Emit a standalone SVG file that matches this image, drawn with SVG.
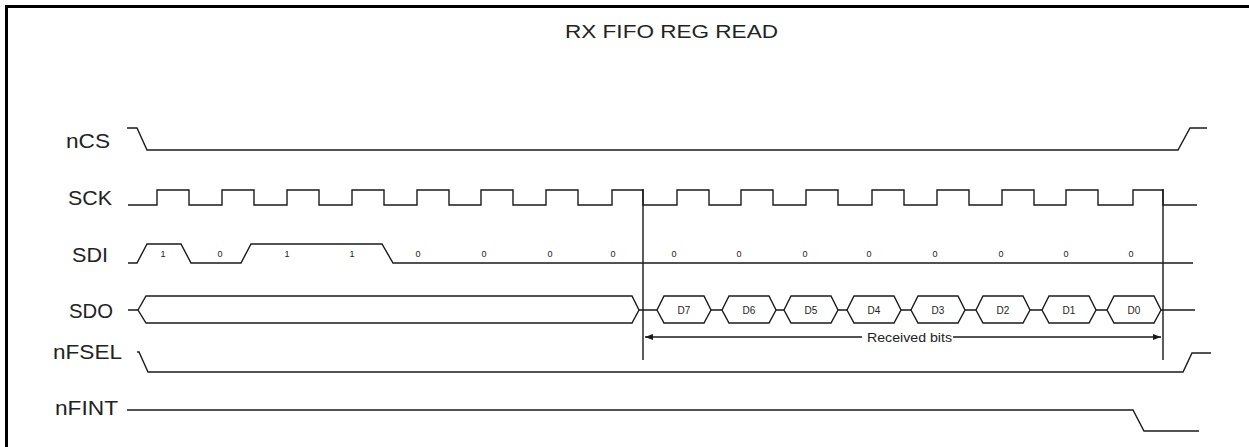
<svg xmlns="http://www.w3.org/2000/svg" width="1249" height="447" viewBox="0 0 1249 447">
<style>
.w{fill:none;stroke:#1a1a1a;stroke-width:1.4;stroke-linejoin:miter}
.lbl{font-family:"Liberation Sans",Arial,sans-serif;font-size:21px;fill:#222}
.ttl{font-family:"Liberation Sans",Arial,sans-serif;font-size:19px;fill:#222}
.bit{font-family:"Liberation Sans",Arial,sans-serif;font-size:9px;fill:#222;text-anchor:middle}
.d{font-family:"Liberation Sans",Arial,sans-serif;font-size:10px;fill:#222;text-anchor:middle}
.rb{font-family:"Liberation Sans",Arial,sans-serif;font-size:13.5px;fill:#222}
</style>
<defs>
<marker id="ah" viewBox="0 0 8 6" refX="8" refY="3" markerWidth="8" markerHeight="6" markerUnits="userSpaceOnUse" orient="auto-start-reverse">
<path d="M0 0 L8 3 L0 6 Z" fill="#1a1a1a"/>
</marker>
</defs>
<rect width="1249" height="447" fill="#fff"/>
<path d="M6.5 447 V6.5 H1249" fill="none" stroke="#000" stroke-width="3"/>
<text class="ttl" x="565" y="38" textLength="213" lengthAdjust="spacingAndGlyphs">RX FIFO REG READ</text>

<g id="nCS">
<text class="lbl" x="66" y="148" textLength="44" lengthAdjust="spacingAndGlyphs">nCS</text>
<path class="w" d="M127 128 H137 L147 150 H1178 L1190 128 H1207"/>
</g>

<g id="SCK">
<text class="lbl" x="68" y="205" textLength="44" lengthAdjust="spacingAndGlyphs">SCK</text>
<path class="w" d="M128 205 H157 V190 H189 V205 H222 V190 H254 V205 H287 V190 H319 V205 H352 V190 H384 V205 H417 V190 H449 V205 H481 V190 H513 V205 H546 V190 H578 V205 H612 V190 H643 V205 H677 V190 H709 V205 H741 V190 H773 V205 H806 V190 H838 V205 H872 V190 H904 V205 H937 V190 H969 V205 H1002 V190 H1034 V205 H1066 V190 H1098 V205 H1133 V190 H1163 V205 H1197"/>
</g>

<g id="SDI">
<text class="lbl" x="72" y="262" textLength="36" lengthAdjust="spacingAndGlyphs">SDI</text>
<path class="w" d="M128 263 H137 L147 244 H181 L191 263 H241 L251 244 H382 L393 263 H1193"/>
<text class="bit" x="163" y="257">1</text>
<text class="bit" x="220" y="257">0</text>
<text class="bit" x="287" y="257">1</text>
<text class="bit" x="352" y="257">1</text>
<text class="bit" x="418" y="257">0</text>
<text class="bit" x="484" y="257">0</text>
<text class="bit" x="550" y="257">0</text>
<text class="bit" x="613" y="257">0</text>
<text class="bit" x="674" y="257">0</text>
<text class="bit" x="739" y="257">0</text>
<text class="bit" x="805" y="257">0</text>
<text class="bit" x="869" y="257">0</text>
<text class="bit" x="935" y="257">0</text>
<text class="bit" x="1001" y="257">0</text>
<text class="bit" x="1066" y="257">0</text>
<text class="bit" x="1131" y="257">0</text>
</g>

<g id="SDO">
<text class="lbl" x="69" y="318" textLength="44" lengthAdjust="spacingAndGlyphs">SDO</text>
<path class="w" d="M128 310 H138 M639 310 H657 M711 310 H722 M776 310 H784 M838 310 H847 M901 310 H911 M965 310 H976 M1030 310 H1042 M1096 310 H1107 M1161 310 H1195"/>
<path class="w" d="M138 310 L146 296 H632 L639 310 L632 323 H146 Z"/>
<path class="w" d="M657 310 L664 296 H704 L711 310 L704 323 H664 Z"/>
<path class="w" d="M722 310 L729 296 H769 L776 310 L769 323 H729 Z"/>
<path class="w" d="M784 310 L791 296 H831 L838 310 L831 323 H791 Z"/>
<path class="w" d="M847 310 L854 296 H894 L901 310 L894 323 H854 Z"/>
<path class="w" d="M911 310 L918 296 H958 L965 310 L958 323 H918 Z"/>
<path class="w" d="M976 310 L983 296 H1023 L1030 310 L1023 323 H983 Z"/>
<path class="w" d="M1042 310 L1049 296 H1089 L1096 310 L1089 323 H1049 Z"/>
<path class="w" d="M1107 310 L1114 296 H1154 L1161 310 L1154 323 H1114 Z"/>
<text class="d" x="684" y="314">D7</text>
<text class="d" x="749" y="314">D6</text>
<text class="d" x="811" y="314">D5</text>
<text class="d" x="874" y="314">D4</text>
<text class="d" x="938" y="314">D3</text>
<text class="d" x="1003" y="314">D2</text>
<text class="d" x="1069" y="314">D1</text>
<text class="d" x="1134" y="314">D0</text>
</g>

<g id="nFSEL">
<text class="lbl" x="53" y="359" textLength="69" lengthAdjust="spacingAndGlyphs">nFSEL</text>
<path class="w" d="M137 352 H139 L148 372 H1183 L1192 353 H1211"/>
</g>

<g id="nFINT">
<text class="lbl" x="55" y="415" textLength="63" lengthAdjust="spacingAndGlyphs">nFINT</text>
<path class="w" d="M127 410 H1133 L1144 431 H1199"/>
</g>

<g id="connectors">
<path class="w" d="M643 189 V360 M1163 189 V360"/>
<path class="w" d="M862 337 H645" marker-end="url(#ah)"/>
<path class="w" d="M953 337 H1161" marker-end="url(#ah)"/>
<text class="rb" x="867" y="342" textLength="85" lengthAdjust="spacingAndGlyphs">Received bits</text>
</g>
</svg>
